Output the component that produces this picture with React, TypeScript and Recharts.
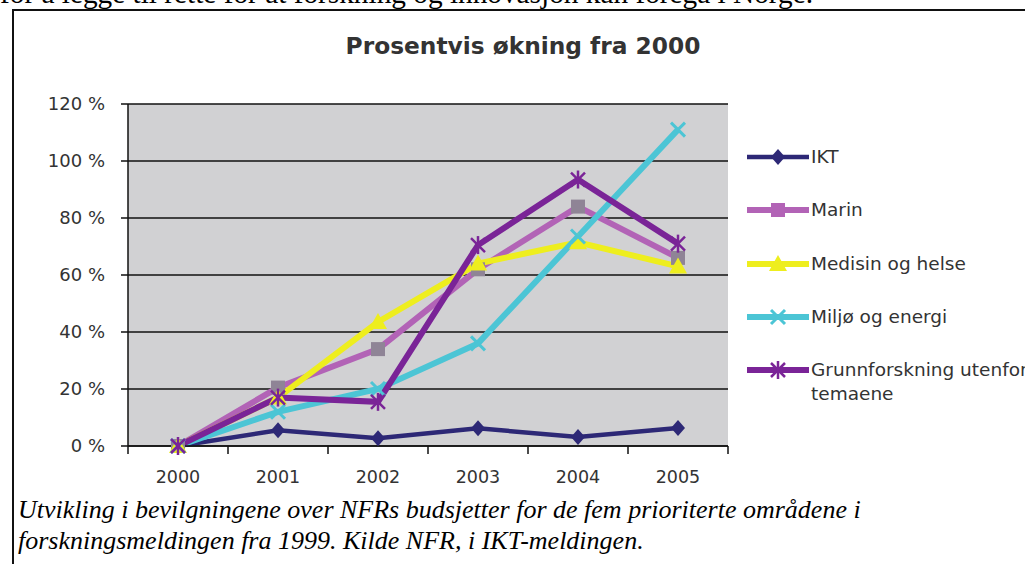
import React from 'react';
import { LineChart, Line, XAxis, YAxis, CartesianGrid } from 'recharts';

const years = ['2000', '2001', '2002', '2003', '2004', '2005'];
const ikt = [0, 5.5, 2.7, 6.2, 3.2, 6.3];
const marin = [0, 20.5, 34, 62, 84, 66];
const medisin = [0, 17, 43.5, 64, 71.5, 63];
const miljo = [0, 12, 20, 36, 73.5, 111];
const grunnforskning = [0, 17, 15.5, 70.5, 93.5, 71];
const yTicks = [0, 20, 40, 60, 80, 100, 120];

const data = years.map((year, i) => ({
  year,
  ikt: ikt[i],
  marin: marin[i],
  medisin: medisin[i],
  miljo: miljo[i],
  grunn: grunnforskning[i],
}));

type MarkerKind = 'diamond' | 'square' | 'triangle' | 'cross' | 'star';

const series: Array<{
  key: string;
  name: string[];
  color: string;
  markerFill: string;
  marker: MarkerKind;
  width: number;
}> = [
  { key: 'ikt', name: ['IKT'], color: '#2D2876', markerFill: '#2D2876', marker: 'diamond', width: 4.5 },
  { key: 'marin', name: ['Marin'], color: '#B263B6', markerFill: '#8F8496', marker: 'square', width: 6 },
  { key: 'medisin', name: ['Medisin og helse'], color: '#EEEE1E', markerFill: '#EEEE1E', marker: 'triangle', width: 6 },
  { key: 'miljo', name: ['Miljø og energi'], color: '#4CC5D5', markerFill: '#4CC5D5', marker: 'cross', width: 6 },
  { key: 'grunn', name: ['Grunnforskning utenfor', 'temaene'], color: '#7A2497', markerFill: '#7A2497', marker: 'star', width: 6 },
];

const font = '"DejaVu Sans", Verdana, sans-serif';
const textColor = '#333';

function marker(kind: MarkerKind, cx: number, cy: number, fill: string, key?: string) {
  switch (kind) {
    case 'diamond':
      return <polygon key={key} points={`${cx},${cy - 8} ${cx + 7},${cy} ${cx},${cy + 8} ${cx - 7},${cy}`} fill={fill} />;
    case 'square':
      return <rect key={key} x={cx - 7} y={cy - 7} width={14} height={14} fill={fill} />;
    case 'triangle':
      return <polygon key={key} points={`${cx},${cy - 9} ${cx + 9},${cy + 7} ${cx - 9},${cy + 7}`} fill={fill} />;
    case 'cross':
      return (
        <g key={key} stroke={fill} strokeWidth={3}>
          <line x1={cx - 7} y1={cy - 7} x2={cx + 7} y2={cy + 7} />
          <line x1={cx - 7} y1={cy + 7} x2={cx + 7} y2={cy - 7} />
        </g>
      );
    default:
      return (
        <g key={key} stroke={fill} strokeWidth={2.5}>
          <line x1={cx - 7} y1={cy - 7} x2={cx + 7} y2={cy + 7} />
          <line x1={cx - 7} y1={cy + 7} x2={cx + 7} y2={cy - 7} />
          <line x1={cx} y1={cy - 9} x2={cx} y2={cy + 9} />
        </g>
      );
  }
}

// category label at the band centre, tick marks on the band edges
function YearTick(props: any) {
  const { x, y, payload, index, visibleTicksCount } = props;
  const half = payload?.offset ?? 0;
  const last = index === visibleTicksCount - 1;
  return (
    <g>
      <line x1={x - half} y1={y} x2={x - half} y2={y + 8} stroke="#111" strokeWidth={1.5} />
      {last && <line x1={x + half} y1={y} x2={x + half} y2={y + 8} stroke="#111" strokeWidth={1.5} />}
      <text x={x} y={y + 25} dy="0.71em" textAnchor="middle" fill={textColor} fontSize={17.5} fontFamily={font}>
        {payload.value}
      </text>
    </g>
  );
}

function LegendBox() {
  return (
    <div style={{ position: 'absolute', left: 747, top: 145 }}>
      {series.map((s) => (
        <div key={s.key} style={{ display: 'flex', alignItems: 'flex-start', height: 53.3 }}>
          <svg width={62} height={24} style={{ flex: 'none' }}>
            <line x1={0} y1={12} x2={62} y2={12} stroke={s.color} strokeWidth={s.width} />
            {marker(s.marker, 31, 12, s.key === 'marin' ? s.color : s.markerFill)}
          </svg>
          <div
            style={{
              marginLeft: 2,
              fontFamily: font,
              fontSize: 18.5,
              lineHeight: '24px',
              color: textColor,
              whiteSpace: 'nowrap',
            }}
          >
            {s.name.map((n) => (
              <div key={n}>{n}</div>
            ))}
          </div>
        </div>
      ))}
    </div>
  );
}

export default function App() {
  return (
    <div
      style={{
        position: 'fixed',
        left: 0,
        top: 0,
        width: 1025,
        height: 564,
        overflow: 'hidden',
        background: '#fff',
      }}
    >
      <div
        style={{
          position: 'absolute',
          left: 0,
          top: -23,
          fontFamily: '"Liberation Serif", serif',
          fontSize: 29.3,
          whiteSpace: 'nowrap',
          color: '#000',
        }}
      >
        for å legge til rette for at forskning og innovasjon kan foregå i Norge.
      </div>
      <div
        style={{
          position: 'absolute',
          left: 12,
          top: 9,
          width: 2000,
          height: 2000,
          border: '2px solid #111',
        }}
      />
      <div
        style={{
          position: 'absolute',
          left: 0,
          width: 1046,
          top: 34,
          textAlign: 'center',
          fontFamily: font,
          fontWeight: 'bold',
          fontSize: 23.3,
          lineHeight: '23px',
          color: textColor,
        }}
      >
        Prosentvis økning fra 2000
      </div>
      <div style={{ position: 'absolute', left: 0, top: 0 }}>
        <LineChart width={1025} height={500} data={data} margin={{ top: 104, right: 297, left: 0, bottom: 24 }}>
          <CartesianGrid vertical={false} fill="#D1D1D3" stroke="#111" strokeWidth={1.3} horizontalValues={yTicks} />
          <XAxis
            dataKey="year"
            scale="band"
            axisLine={{ stroke: '#111', strokeWidth: 1.5 }}
            tickLine={false}
            tickSize={0}
            tickMargin={0}
            height={30}
            tick={<YearTick />}
          />
          <YAxis
            type="number"
            domain={[0, 120]}
            ticks={yTicks}
            width={128}
            tickSize={7}
            tickMargin={16}
            tickFormatter={(v: number) => `${v} %`}
            tick={{ fill: textColor, fontSize: 18, fontFamily: font }}
            tickLine={{ stroke: '#111', strokeWidth: 1.5 }}
            axisLine={{ stroke: '#111', strokeWidth: 1.5 }}
          />
          {series.map((s) => (
            <Line
              key={s.key}
              type="linear"
              dataKey={s.key}
              stroke={s.color}
              strokeWidth={s.width}
              isAnimationActive={false}
              dot={(p: any) => marker(s.marker, p.cx, p.cy, s.markerFill, `${s.key}-${p.index}`)}
              activeDot={false}
            />
          ))}
        </LineChart>
      </div>
      <LegendBox />
      <div
        style={{
          position: 'absolute',
          left: 18,
          top: 494,
          fontFamily: '"Liberation Serif", serif',
          fontStyle: 'italic',
          fontSize: 26,
          lineHeight: '31px',
          color: '#000',
          whiteSpace: 'nowrap',
        }}
      >
        <div>Utvikling i bevilgningene over NFRs budsjetter for de fem prioriterte områdene i</div>
        <div>forskningsmeldingen fra 1999. Kilde NFR, i IKT-meldingen.</div>
      </div>
    </div>
  );
}
